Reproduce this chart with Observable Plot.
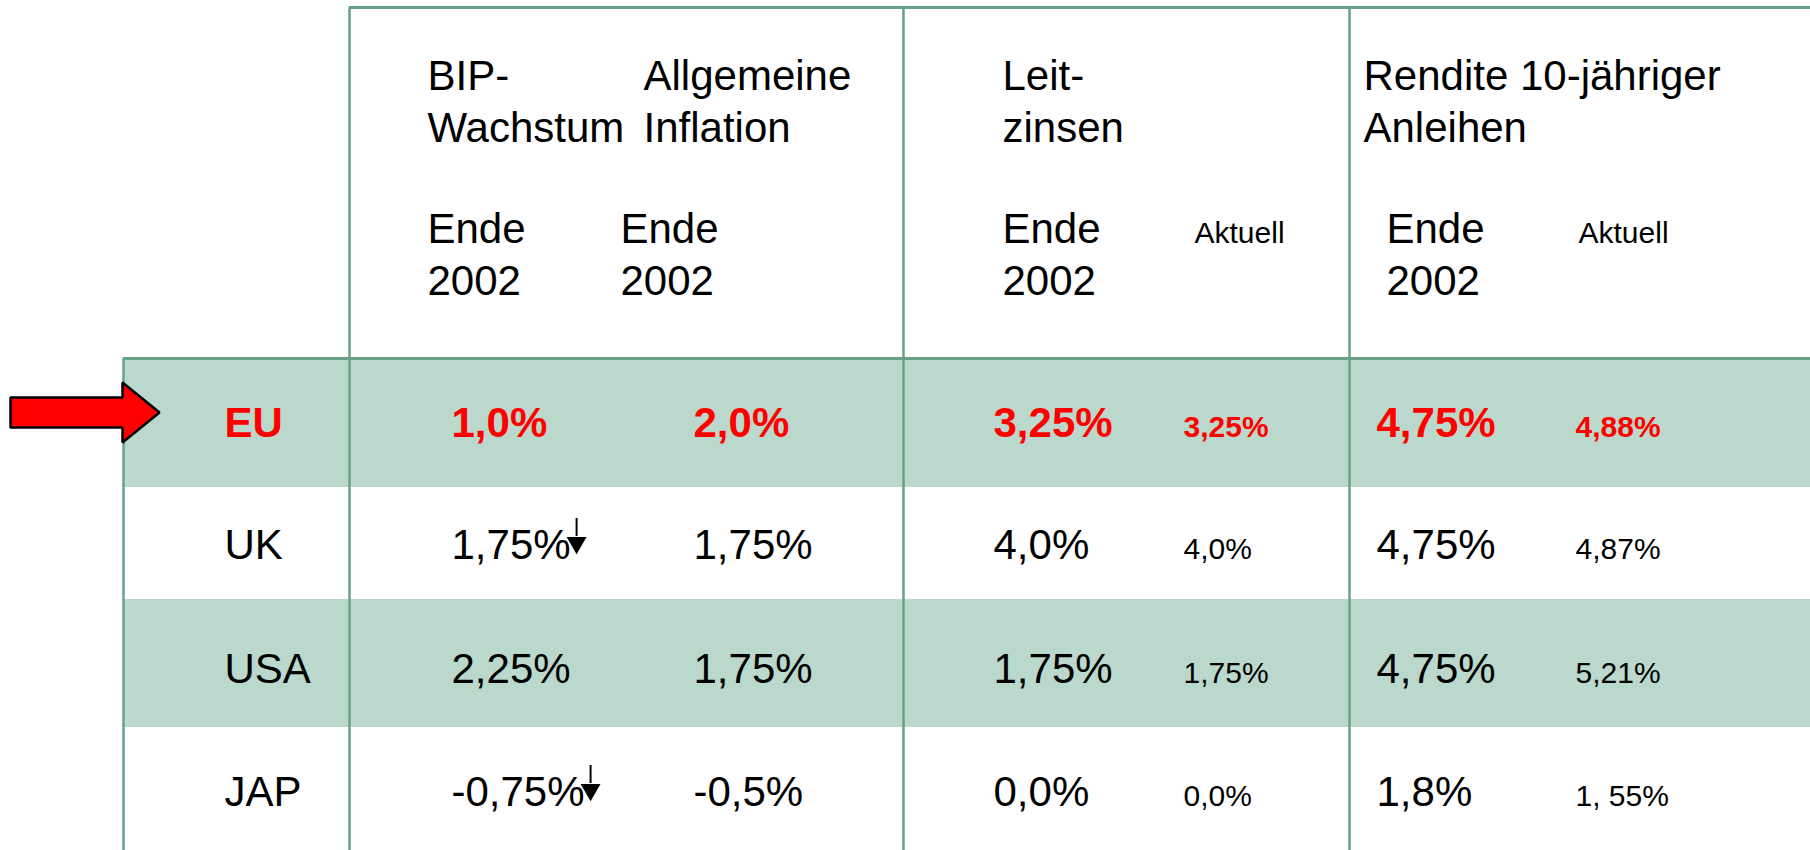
<!DOCTYPE html>
<html><head><meta charset="utf-8">
<script src="https://cdn.jsdelivr.net/npm/d3@7"></script>
<script src="https://cdn.jsdelivr.net/npm/@observablehq/plot@0.6"></script>
<style>
html,body{margin:0;padding:0;background:#fff;overflow:hidden}
#chart svg{display:block}
</style></head><body><div id="chart"></div>
<script>
// ---------- DATA ----------
const countries = ["EU", "UK", "USA", "JAP"];
const highlightCountry = "EU";
const bipWachstum = ["1,0%", "1,75%", "2,25%", "-0,75%"];
const inflation = ["2,0%", "1,75%", "1,75%", "-0,5%"];
const leitzinsEnde = ["3,25%", "4,0%", "1,75%", "0,0%"];
const leitzinsAktuell = ["3,25%", "4,0%", "1,75%", "0,0%"];
const renditeEnde = ["4,75%", "4,75%", "4,75%", "1,8%"];
const renditeAktuell = ["4,88%", "4,87%", "5,21%", "1, 55%"];
const bipTrendDown = ["UK", "JAP"];
const groupTitles = [
  ["BIP-", "Wachstum"],
  ["Allgemeine", "Inflation"],
  ["Leit-", "zinsen"],
  ["Rendite 10-jähriger", "Anleihen"]
];
const subHeaderEnde = ["Ende", "2002"];
const subHeaderAktuell = "Aktuell";

// ---------- LAYOUT / STYLE ----------
const W = 1810, H = 850;
const FONT = "'Liberation Sans', Arial, Helvetica, sans-serif";
const lineColor = "#68a088", bandColor = "#bad8cb", red = "#ff0000";
const L = {
  top: 7, headerBottom: 358, tableLeft: 123, headerLeft: 349, right: W,
  dividers: [349, 903, 1349],
  rowEdges: [358, 487, 599, 727, 850],
  rowBaselines: [436, 558, 682, 805],
  titleBaselines: [89, 141], subBaselines: [242, 294],
  titleX: [427, 643, 1002, 1363],
  endeX: [427, 620, 1002, 1386], aktuellX: [1194, 1578],
  col: {country: 224, bip: 451, infl: 693, leitEnde: 993, leitAkt: 1183, rendEnde: 1376, rendAkt: 1575},
  big: 42, small: 30
};

// measure text width for arrow placement
const ctx = document.createElement("canvas").getContext("2d");
function tw(s, size, bold) { ctx.font = (bold ? "bold " : "") + size + "px " + FONT; return ctx.measureText(s).width; }

// ---------- DERIVED TABLES ----------
const rows = countries.map((c, i) => ({
  country: c, i, y1: L.rowEdges[i], y2: L.rowEdges[i + 1], base: L.rowBaselines[i], hl: c === highlightCountry
}));

const cells = [];
rows.forEach((r, i) => {
  const add = (t, x, size) => cells.push({t, x, y: r.base, size, hl: r.hl});
  add(countries[i], L.col.country, L.big);
  add(bipWachstum[i], L.col.bip, L.big);
  add(inflation[i], L.col.infl, L.big);
  add(leitzinsEnde[i], L.col.leitEnde, L.big);
  add(leitzinsAktuell[i], L.col.leitAkt, L.small);
  add(renditeEnde[i], L.col.rendEnde, L.big);
  add(renditeAktuell[i], L.col.rendAkt, L.small);
});

const headerCells = [];
groupTitles.forEach((lines, g) => lines.forEach((t, k) =>
  headerCells.push({t, x: L.titleX[g], y: L.titleBaselines[k], size: L.big})));
L.endeX.forEach(x => subHeaderEnde.forEach((t, k) =>
  headerCells.push({t, x, y: L.subBaselines[k], size: L.big})));
L.aktuellX.forEach(x => headerCells.push({t: subHeaderAktuell, x, y: L.subBaselines[0], size: L.small}));

// small down arrows after BIP values
const downArrows = rows.filter(r => bipTrendDown.includes(r.country)).map(r => {
  const x = L.col.bip + tw(bipWachstum[r.i], L.big, false) + 6;
  return {x, ys1: r.base - 40, ys2: r.base - 22, yc: r.base - 15.8};
});

// big red pointer arrow at highlighted row
const hlRow = rows.find(r => r.hl);
const cy = (hlRow.y1 + hlRow.y2) / 2 - 10.5;
const tipX = L.tableLeft + 36;
const pointer = [
  [10, -15], [tipX - 37, -15], [tipX - 37, -30], [tipX, 0], [tipX - 37, 30], [tipX - 37, 15], [10, 15]
].map(([x, dy]) => ({x, y: cy + dy}));

// ---------- RULES ----------
const hRules = [
  {y: L.top, x1: L.headerLeft, x2: L.right},
  {y: L.headerBottom, x1: L.tableLeft, x2: L.right}
];
const vRules = [
  ...L.dividers.map(x => ({x, y1: L.top, y2: H})),
  {x: L.tableLeft, y1: L.headerBottom, y2: H}
];

const chart = Plot.plot({
  width: W, height: H, margin: 0,
  x: {type: "linear", domain: [0, W], range: [0, W], axis: null},
  y: {type: "linear", domain: [0, H], range: [0, H], axis: null},
  style: {fontFamily: FONT, background: "white"},
  marks: [
    Plot.rect(rows.filter(r => r.i % 2 === 0), {x1: () => L.tableLeft, x2: () => L.right, y1: "y1", y2: "y2", fill: bandColor}),
    Plot.ruleX(vRules, {x: "x", y1: "y1", y2: "y2", stroke: lineColor, strokeWidth: 2.5}),
    Plot.ruleY(hRules, {y: "y", x1: "x1", x2: "x2", stroke: lineColor, strokeWidth: 3}),
    Plot.text(headerCells, {x: "x", y: "y", text: "t", fontSize: d => d.size, textAnchor: "start", lineAnchor: "bottom", fill: "black"}),
    Plot.text(cells.filter(d => !d.hl), {x: "x", y: "y", text: "t", fontSize: d => d.size, textAnchor: "start", lineAnchor: "bottom", fill: "black"}),
    Plot.text(cells.filter(d => d.hl), {x: "x", y: "y", text: "t", fontSize: d => d.size, textAnchor: "start", lineAnchor: "bottom", fill: red, fontWeight: "bold"}),
    Plot.ruleX(downArrows, {x: "x", y1: "ys1", y2: "ys2", stroke: "black", strokeWidth: 2}),
    Plot.dot(downArrows, {x: "x", y: "yc", symbol: "triangle2", rotate: 180, r: 9.5, fill: "black", stroke: "none"}),
    Plot.line(pointer, {x: "x", y: "y", curve: "linear-closed", fill: red, stroke: "black", strokeWidth: 2.5, strokeLinejoin: "miter"})
  ]
});
document.getElementById("chart").appendChild(chart);
</script></body></html>
